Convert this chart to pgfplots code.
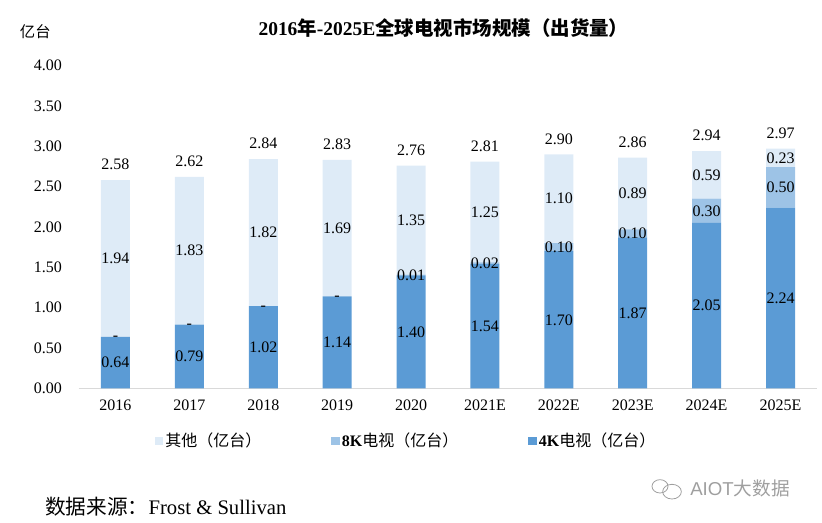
\documentclass[border=0pt]{standalone}
\usepackage{fontspec}
\setmainfont{Liberation Serif}
\newfontfamily\cjk{Noto Sans CJK SC}
\newfontfamily\wmfont{Liberation Sans}
\usepackage{pgfplots}
\pgfplotsset{compat=1.18}
\usepackage{pgfplotstable}
\definecolor{c4k}{HTML}{5B9BD5}
\definecolor{c8k}{HTML}{9DC3E6}
\definecolor{coth}{HTML}{DEEBF7}
\definecolor{axgray}{HTML}{D9D9D9}

\pgfplotstableread{
x v4 v8 vo
0 0.64 0.00 1.94
1 0.79 0.00 1.83
2 1.02 0.00 1.82
3 1.14 0.00 1.69
4 1.40 0.01 1.35
5 1.54 0.02 1.25
6 1.70 0.10 1.10
7 1.87 0.10 0.89
8 2.05 0.30 0.59
9 2.24 0.50 0.23
}\datatable

% segment label positions (middle of each segment)
\pgfplotstableread{
x y lab
0 0.320 0.64
1 0.395 0.79
2 0.510 1.02
3 0.570 1.14
4 0.700 1.40
5 0.770 1.54
6 0.850 1.70
7 0.935 1.87
8 1.025 2.05
9 1.120 2.24
0 0.615 -
1 0.765 -
2 0.995 -
3 1.115 -
4 1.405 0.01
5 1.550 0.02
6 1.750 0.10
7 1.920 0.10
8 2.200 0.30
9 2.490 0.50
0 1.610 1.94
1 1.705 1.83
2 1.930 1.82
3 1.985 1.69
4 2.085 1.35
5 2.185 1.25
6 2.350 1.10
7 2.415 0.89
8 2.645 0.59
9 2.855 0.23
}\seglab

\pgfplotstableread{
x y lab
0 2.58 2.58
1 2.62 2.62
2 2.84 2.84
3 2.83 2.83
4 2.76 2.76
5 2.81 2.81
6 2.90 2.90
7 2.86 2.86
8 2.94 2.94
9 2.97 2.97
}\totlab

\pgfplotsset{
  base/.style={
    scale only axis,
    width=554.2pt, height=242.25pt,
    xmin=-0.5, xmax=9.5, ymin=0, ymax=4,
    at={(58.9pt,100.9pt)}, anchor=south west,
  },
}

\begin{document}
\begin{tikzpicture}
\path[use as bounding box] (0,0) rectangle (616.5pt,392.25pt);

\begin{axis}[
  base,
  ybar stacked,
  bar width=21.75pt,
  axis x line*=bottom,
  axis y line*=left,
  x axis line style={axgray, line width=1.2pt, -},
  y axis line style={draw=none},
  major tick length=0pt,
  tick style={draw=none},
  xtick={0,...,9},
  xticklabels={2016,2017,2018,2019,2020,2021E,2022E,2023E,2024E,2025E},
  ytick={0,0.5,...,4},
  yticklabel style={/pgf/number format/.cd, fixed, fixed zerofill, precision=2, assume math mode=true},
  tick label style={font=\fontsize{12}{14}\selectfont},
  yticklabel shift=9pt,
  xticklabel shift=5pt,
  legend columns=3,
  reverse legend,
  legend image code/.code={\fill[#1] (0pt,-3.2pt) rectangle (6.4pt,3.2pt);},
  legend style={at={(0.103,-0.163)}, anchor=west, draw=none, fill=none,
    font=\fontsize{12}{14}\selectfont, inner sep=0pt,
    nodes={inner sep=1.5pt},
    /tikz/every even column/.append style={column sep=51pt}},
  legend cell align=left,
]
\addplot[fill=c4k, draw=none] table[x=x,y=v4]{\datatable};
\addlegendentry{{\bfseries 4K}{\cjk 电视（亿台）}}
\addplot[fill=c8k, draw=none] table[x=x,y=v8]{\datatable};
\addlegendentry{{\bfseries 8K}{\cjk 电视（亿台）}}
\addplot[fill=coth, draw=none] table[x=x,y=vo]{\datatable};
\addlegendentry{{\cjk 其他（亿台）}}
\end{axis}

\begin{axis}[
  base,
  axis lines=none,
  ticks=none,
]
\addplot[draw=none, mark=none, nodes near coords, point meta=explicit symbolic,
  nodes near coords align=center,
  every node near coord/.append style={anchor=center, font=\fontsize{12}{14}\selectfont, inner sep=0pt}]
  table[x=x,y=y,meta=lab]{\seglab};
\addplot[draw=none, mark=none, nodes near coords, point meta=explicit symbolic,
  nodes near coords align=center,
  every node near coord/.append style={anchor=center, yshift=11.6pt, font=\fontsize{12}{14}\selectfont, inner sep=0pt}]
  table[x=x,y=y,meta=lab]{\totlab};
\end{axis}

% title and unit
\node at (332.6pt,371.2pt) {\fontsize{14.6}{16}\selectfont\bfseries 2016{\cjk\bfseries 年}-2025E{\cjk\bfseries 全球电视市场规模（出货量）}};
\node at (26.5pt,368.2pt) {\fontsize{11.5}{13}\selectfont\cjk 亿台};

% source
\node[anchor=west, inner sep=0pt] at (33.75pt,12pt) {\fontsize{15.5}{18}\selectfont{\cjk 数据来源：}Frost \& Sullivan};

% watermark
\begin{scope}[gray!75, line width=0.6pt]
  \draw (495pt,27.5pt) ellipse (6pt and 5pt);
  \draw (504pt,23.5pt) ellipse (7pt and 5.5pt);
\end{scope}
\node[anchor=west, inner sep=0pt, gray!75] at (517.5pt,26.2pt) {\fontsize{14}{16}\selectfont\wmfont AIOT{\cjk 大数据}};
\end{tikzpicture}
\end{document}
